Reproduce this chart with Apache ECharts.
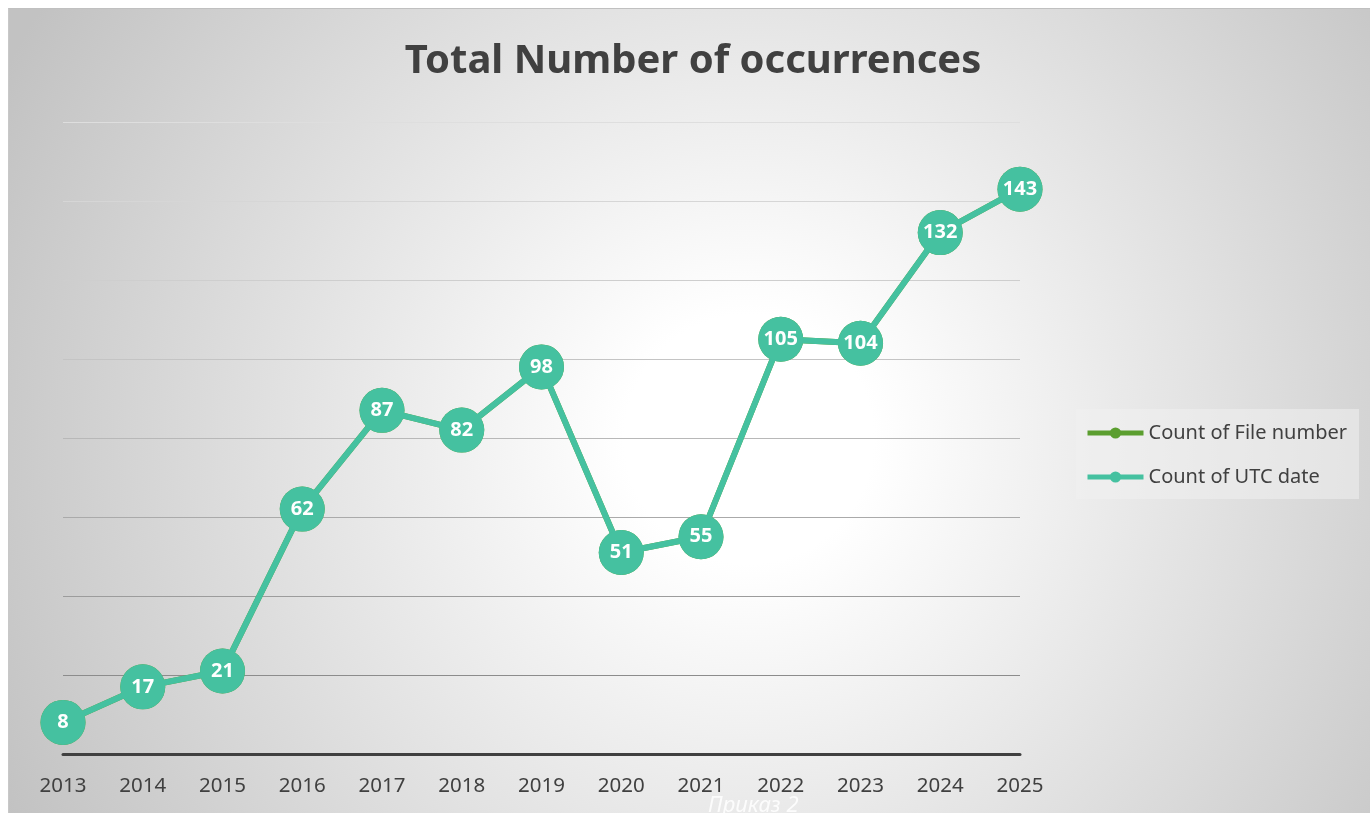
<!DOCTYPE html>
<html>
<head>
<meta charset="utf-8">
<script src="https://cdn.jsdelivr.net/npm/echarts@6/dist/echarts.min.js"></script>
<style>
  html, body { margin: 0; padding: 0; background: #ffffff; }
  #chart { position: absolute; left: 8px; top: 8px; width: 1362px; height: 805px; border-top: 1px solid #c0c0c0; border-left: 1px solid #c8c8c8; box-sizing: border-box; }
</style>
</head>
<body>
<div id="chart"></div>
<script>
const years = ['2013','2014','2015','2016','2017','2018','2019','2020','2021','2022','2023','2024','2025'];
const countFileNumber = [8, 17, 21, 62, 87, 82, 98, 51, 55, 105, 104, 132, 143];
const countUtcDate = [8, 17, 21, 62, 87, 82, 98, 51, 55, 105, 104, 132, 143];
const seriesNames = ['Count of File number', 'Count of UTC date'];
const titleText = 'Total Number of occurrences';
const watermarkText = 'Приказ 2';

const chart = echarts.init(document.getElementById('chart'), null, { renderer: 'canvas' });
const font = "'Noto Sans', 'Open Sans', sans-serif";

chart.setOption({
  backgroundColor: {
    type: 'radial', x: 740, y: 430, r: 830, global: true,
    colorStops: [
      { offset: 0, color: '#ffffff' },
      { offset: 0.15, color: '#ffffff' },
      { offset: 1, color: '#c2c2c2' }
    ]
  },
  animation: false,
  title: {
    text: titleText,
    left: 684, textAlign: 'center',
    top: 33, padding: 0,
    textStyle: { fontFamily: font, fontSize: 40, fontWeight: 'bold', color: '#404040' }
  },
  legend: {
    orient: 'vertical',
    left: 1067, top: 400,
    padding: [12, 12, 10, 9],
    backgroundColor: 'rgba(240,240,240,0.55)',
    itemWidth: 56, itemHeight: 14, itemGap: 20,
    lineStyle: { width: 5 },
    textStyle: { fontFamily: font, fontSize: 20, color: '#404040', lineHeight: 24 },
    data: seriesNames
  },
  grid: { left: 54, right: 350, top: 113, bottom: 59 },
  xAxis: {
    type: 'category', data: years, boundaryGap: false,
    axisLine: { lineStyle: { color: '#404040', width: 3 } },
    axisTick: { show: false },
    axisLabel: { fontFamily: font, fontSize: 20.5, color: '#404040', margin: 22 },
    splitLine: { show: false }
  },
  yAxis: {
    type: 'value', min: 0, max: 160, interval: 20,
    axisLine: { show: false }, axisTick: { show: false }, axisLabel: { show: false },
    splitLine: { lineStyle: { width: 1.2, color: ['#9a9a9a', '#8c8c8c', '#9c9c9c', '#aaaaaa', '#b8b8b8', '#c4c4c4', '#cecece', '#d6d6d6', '#dedede'] } }
  },
  graphic: [{
    type: 'text', left: 699, top: 786,
    style: { text: watermarkText, fontFamily: font, fontSize: 22, fontStyle: 'italic', fill: 'rgba(255,255,255,0.85)' }
  }],
  series: [
    {
      name: seriesNames[0], type: 'line', data: countFileNumber,
      color: '#5b9e2f',
      lineStyle: { width: 6, color: '#5b9e2f' },
      symbol: 'circle', symbolSize: 45,
      itemStyle: { color: '#5b9e2f' },
      label: { show: false },
      z: 2
    },
    {
      name: seriesNames[1], type: 'line', data: countUtcDate,
      color: '#45c1a0',
      lineStyle: { width: 6, color: '#45c1a0' },
      symbol: 'circle', symbolSize: 45,
      itemStyle: { color: '#45c1a0' },
      label: { show: true, position: 'inside', color: '#ffffff', fontFamily: font, fontSize: 20, fontWeight: 'bold' },
      z: 3
    }
  ]
});
</script>
</body>
</html>
